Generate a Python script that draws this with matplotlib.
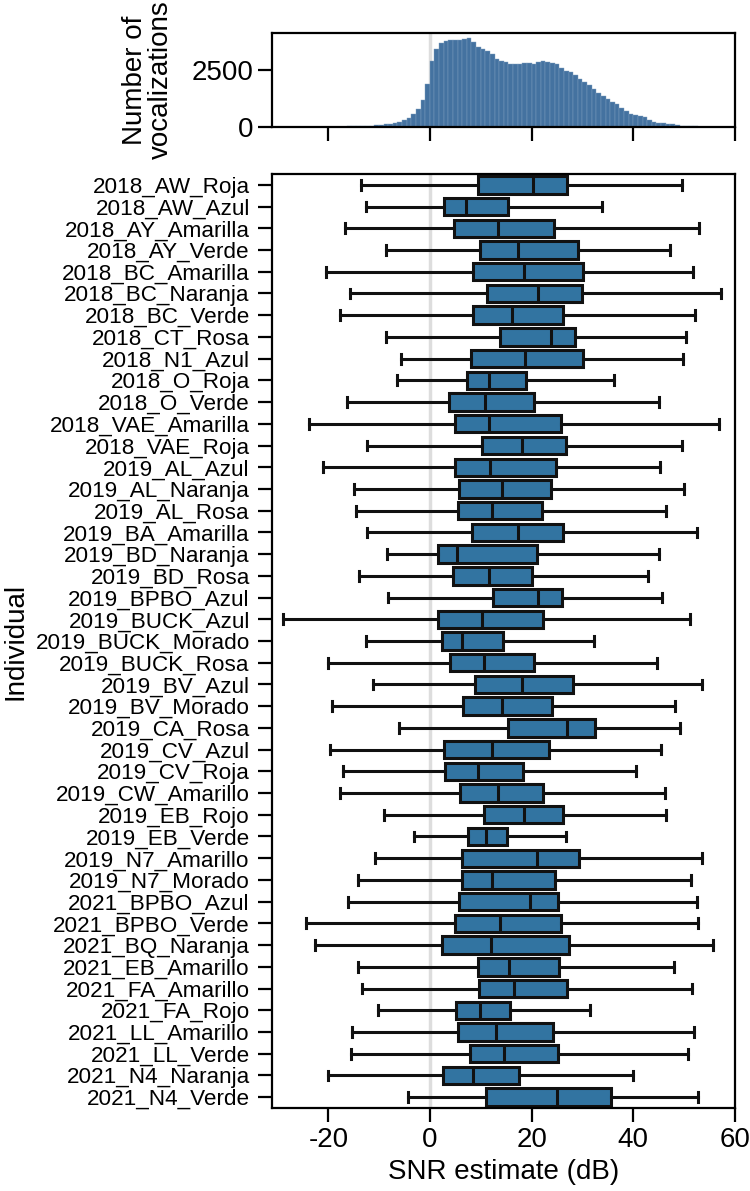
import matplotlib
matplotlib.use("Agg")
import matplotlib.pyplot as plt
import numpy as np

plt.rcParams['font.family'] = ['Liberation Sans', 'DejaVu Sans']

individuals = [
    "2018_AW_Roja", "2018_AW_Azul", "2018_AY_Amarilla", "2018_AY_Verde",
    "2018_BC_Amarilla", "2018_BC_Naranja", "2018_BC_Verde", "2018_CT_Rosa",
    "2018_N1_Azul", "2018_O_Roja", "2018_O_Verde", "2018_VAE_Amarilla",
    "2018_VAE_Roja", "2019_AL_Azul", "2019_AL_Naranja", "2019_AL_Rosa",
    "2019_BA_Amarilla", "2019_BD_Naranja", "2019_BD_Rosa", "2019_BPBO_Azul",
    "2019_BUCK_Azul", "2019_BUCK_Morado", "2019_BUCK_Rosa", "2019_BV_Azul",
    "2019_BV_Morado", "2019_CA_Rosa", "2019_CV_Azul", "2019_CV_Roja",
    "2019_CW_Amarillo", "2019_EB_Rojo", "2019_EB_Verde", "2019_N7_Amarillo",
    "2019_N7_Morado", "2021_BPBO_Azul", "2021_BPBO_Verde", "2021_BQ_Naranja",
    "2021_EB_Amarillo", "2021_FA_Amarillo", "2021_FA_Rojo", "2021_LL_Amarillo",
    "2021_LL_Verde", "2021_N4_Naranja", "2021_N4_Verde",
]

whisker_low = [-13.6, -12.6, -16.7, -8.7, -20.5, -15.8, -17.8, -8.7, -5.8, -6.6,
               -16.3, -23.9, -12.4, -21.1, -14.9, -14.5, -12.4, -8.5, -13.9, -8.3,
               -28.9, -12.6, -20.0, -11.3, -19.2, -6.1, -19.7, -17.2, -17.8, -9.1,
               -3.1, -10.8, -14.1, -16.2, -24.5, -22.7, -14.1, -13.4, -10.2, -15.3,
               -15.5, -20.0, -4.3]
q1 = [9.5, 2.8, 4.8, 9.8, 8.5, 11.3, 8.5, 13.7, 8.0, 7.3,
      3.8, 5.0, 10.2, 5.0, 5.7, 5.4, 8.3, 1.5, 4.5, 12.3,
      1.5, 2.3, 4.0, 8.9, 6.5, 15.4, 2.8, 3.0, 5.9, 10.7,
      7.5, 6.3, 6.3, 5.6, 4.9, 2.3, 9.4, 9.6, 5.2, 5.5,
      7.9, 2.5, 11.1]
median = [20.2, 7.1, 13.4, 17.4, 18.5, 21.2, 16.1, 23.7, 18.7, 11.6,
          10.9, 11.6, 18.1, 11.8, 14.1, 12.1, 17.4, 5.3, 11.5, 21.2,
          10.3, 6.3, 10.6, 18.1, 14.1, 26.9, 12.1, 9.4, 13.4, 18.5,
          11.1, 21.0, 12.1, 19.7, 13.8, 11.9, 15.6, 16.6, 9.9, 12.9,
          14.6, 8.5, 25.0]
q3 = [26.9, 15.3, 24.4, 29.2, 30.1, 29.8, 26.2, 28.6, 30.0, 18.9,
      20.4, 25.8, 26.8, 24.7, 23.7, 22.0, 26.2, 21.0, 20.1, 26.0,
      22.2, 14.4, 20.4, 28.1, 24.0, 32.4, 23.4, 18.2, 22.2, 26.2,
      15.2, 29.3, 24.6, 25.2, 25.7, 27.3, 25.3, 26.9, 15.8, 24.2,
      25.2, 17.5, 35.7]
whisker_high = [49.5, 33.8, 52.9, 47.2, 51.8, 57.2, 52.2, 50.3, 49.7, 36.1,
                45.0, 56.8, 49.5, 45.3, 50.0, 46.4, 52.6, 45.0, 42.9, 45.6,
                51.2, 32.3, 44.6, 53.6, 48.2, 49.2, 45.5, 40.6, 46.3, 46.4,
                26.7, 53.6, 51.3, 52.5, 52.8, 55.6, 47.9, 51.5, 31.5, 52.0,
                50.8, 39.9, 52.8]

# Histogram of all vocalizations (100 bins from -31 to 60 dB)
hist_edges_range = (-31.0, 60.0)
hist_counts = [0, 0, 0, 1, 1, 2, 2, 3, 4, 5,
               6, 8, 10, 12, 15, 18, 22, 27, 33, 40,
               48, 58, 72, 92, 115, 140, 180, 230, 295, 400,
               560, 810, 1190, 1900, 2900, 3400, 3660, 3770, 3800, 3830,
               3830, 3840, 3900, 3720, 3500, 3420, 3330, 3180, 2960, 2880,
               2830, 2750, 2740, 2760, 2790, 2800, 2780, 2840, 2890, 2860,
               2790, 2740, 2600, 2470, 2390, 2280, 2110, 1960, 1820, 1680,
               1480, 1360, 1230, 1110, 1000, 850, 680, 580, 530, 485,
               430, 300, 240, 195, 160, 130, 110, 85, 65, 50,
               38, 28, 20, 14, 10, 7, 5, 3, 2, 1]

xticks = [-20, 0, 20, 40, 60]
hist_yticks = [0, 2500]

box_color = "#3274a1"
hist_color = "#4472a0"

W, H = 750, 1191
fig = plt.figure(figsize=(W / 100, H / 100), dpi=100)

left, right = 272 / W, 735 / W
ax_h = fig.add_axes([left, 1 - 127 / H, right - left, (127 - 33) / H])
ax = fig.add_axes([left, 1 - 1108 / H, right - left, (1108 - 174) / H])

xlim = (-31.1, 60.0)

# Histogram
edges = np.linspace(hist_edges_range[0], hist_edges_range[1], len(hist_counts) + 1)
ax_h.bar(edges[:-1], hist_counts, width=np.diff(edges), align='edge',
         color=hist_color, edgecolor='#7f9fc0', linewidth=0.3, zorder=2)
ax_h.axvline(0, color='#dddddd', lw=2.5, zorder=1)
ax_h.set_xlim(xlim)
ax_h.set_ylim(0, 4120)
ax_h.set_xticks(xticks)
ax_h.set_xticklabels([])
ax_h.set_yticks(hist_yticks)
ax_h.set_yticklabels([str(v) for v in hist_yticks])
ax_h.set_ylabel("Number of\nvocalizations", fontsize=20, linespacing=1.0)
ax_h.yaxis.set_label_coords(-0.212, 0.5)

# Boxplots
stats = []
for i, name in enumerate(individuals):
    stats.append(dict(label=name, whislo=whisker_low[i], q1=q1[i], med=median[i],
                      q3=q3[i], whishi=whisker_high[i], fliers=[]))
positions = np.arange(len(individuals))
ax.axvline(0, color='#dddddd', lw=2.5, zorder=0)
ax.bxp(stats, positions=positions, vert=False, widths=0.8, patch_artist=True,
       showfliers=False,
       boxprops=dict(facecolor=box_color, edgecolor='#111111', linewidth=2.2),
       medianprops=dict(color='#111111', linewidth=2.2),
       whiskerprops=dict(color='#111111', linewidth=2.2),
       capprops=dict(color='#111111', linewidth=2.2),
       capwidths=0.45)
ax.set_ylim(len(individuals) - 0.5, -0.5)
ax.set_xlim(xlim)
ax.set_xticks(xticks)
ax.set_xticklabels([str(v) for v in xticks])
ax.set_yticks(positions)
ax.set_yticklabels(individuals)
ax.set_xlabel("SNR estimate (dB)", fontsize=20, labelpad=4)
ax.set_ylabel("Individual", fontsize=20)
ax.yaxis.set_label_coords(-0.525, 0.5)

for a in (ax, ax_h):
    a.tick_params(axis='both', direction='out', length=10, width=1.6)
    for s in a.spines.values():
        s.set_linewidth(1.6)
ax.tick_params(axis='y', labelsize=16.2, pad=6)
ax.tick_params(axis='x', labelsize=20, pad=4)
ax_h.tick_params(axis='y', labelsize=20)

fig.savefig("out.png", dpi=100)
